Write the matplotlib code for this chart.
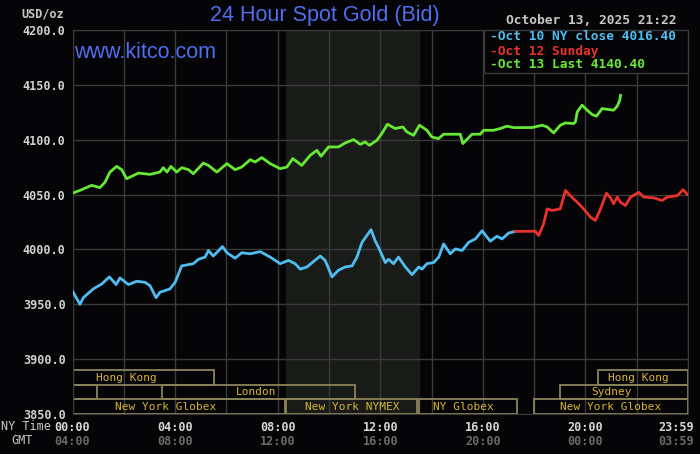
import matplotlib
matplotlib.use("Agg")
import matplotlib.pyplot as plt
from matplotlib.patches import Rectangle

# ---- data (hours NY time, USD/oz) ----
oct10_hours = [0.0, 0.29, 0.42, 0.81, 1.14, 1.44, 1.70, 1.85, 2.18, 2.51, 2.83, 3.02, 3.26, 3.41,
               3.80, 4.00, 4.26, 4.71, 4.91, 5.17, 5.30, 5.49, 5.85, 6.02, 6.34, 6.60, 6.93, 7.32,
               7.71, 8.10, 8.42, 8.68, 8.88, 9.14, 9.66, 9.85, 10.12, 10.37, 10.63, 10.90, 11.09,
               11.29, 11.64, 11.80, 11.93, 12.20, 12.32, 12.52, 12.71, 12.98, 13.24, 13.50, 13.63,
               13.82, 14.08, 14.28, 14.47, 14.73, 14.93, 15.19, 15.45, 15.71, 15.97, 16.29, 16.55,
               16.75, 17.01, 17.27]
oct10_price = [3962, 3950, 3956, 3964, 3968.5, 3975, 3968, 3974, 3968, 3971, 3970, 3967, 3956, 3961,
               3964, 3970, 3985, 3987, 3991, 3993, 3999, 3994, 4002.6, 3997, 3992, 3997, 3996, 3998,
               3993, 3987, 3990, 3987, 3982, 3984, 3994, 3990, 3975, 3981, 3984, 3985, 3993,
               4006.5, 4018, 4008, 4002, 3988, 3991, 3987, 3993, 3984, 3977, 3984, 3982,
               3987, 3988, 3993, 4005, 3996, 4000.5, 3999, 4006.5, 4009.6, 4017, 4007.5, 4012,
               4009.6, 4015, 4016.4]

oct12_hours = [17.27, 18.05, 18.18, 18.37, 18.51, 18.70, 19.02, 19.22, 19.41, 19.68, 19.93, 20.20,
               20.39, 20.59, 20.82, 20.98, 21.10, 21.24, 21.37, 21.56, 21.76, 22.08, 22.28, 22.67,
               22.99, 23.19, 23.58, 23.81, 23.98]
oct12_price = [4016.4, 4016.6, 4012.7, 4023.4, 4037, 4035.5, 4037, 4053.8, 4049, 4043, 4037, 4029.4,
               4026.4, 4037, 4051.3, 4047, 4041.6, 4047.7, 4043, 4040, 4047.7, 4052, 4047.7, 4047,
               4044.6, 4047.7, 4049, 4054.4, 4050]

oct13_hours = [0.0, 0.29, 0.75, 1.07, 1.27, 1.46, 1.72, 1.92, 2.11, 2.31, 2.57, 3.02, 3.41, 3.54,
               3.68, 3.84, 4.06, 4.26, 4.52, 4.71, 5.10, 5.30, 5.63, 6.02, 6.34, 6.60, 6.93, 7.12,
               7.38, 7.71, 8.10, 8.36, 8.59, 8.94, 9.27, 9.53, 9.69, 9.98, 10.37, 10.63, 10.96,
               11.22, 11.41, 11.58, 11.87, 12.06, 12.28, 12.58, 12.88, 13.04, 13.30, 13.53, 13.82,
               14.01, 14.27, 14.47, 15.12, 15.22, 15.58, 15.90, 16.03, 16.42, 16.68, 16.94, 17.22,
               17.93, 18.31, 18.51, 18.76, 19.02, 19.22, 19.54, 19.61, 19.68, 19.87, 20.07, 20.26,
               20.43, 20.65, 20.91, 21.10, 21.24, 21.34, 21.37]
oct13_price = [4051.3, 4053.8, 4058.4, 4056.3, 4061.4, 4070.5, 4075.7, 4072.7, 4064.5, 4066.6, 4069.6,
               4068.4, 4070.5, 4074.5, 4070.5, 4075.7, 4070.5, 4074.5, 4072.7, 4069, 4078.7, 4076.6,
               4070.5, 4078.2, 4072.7, 4075.1, 4081.8, 4079.7, 4083.7, 4078.2, 4073.6, 4075.1,
               4082.8, 4076.6, 4085.8, 4090.3, 4084.9, 4093.4, 4093.4, 4097, 4100.1, 4095.8, 4097.9,
               4094.9, 4099.5, 4105.6, 4114.1, 4110.2, 4111.6, 4107.1, 4104, 4113.2, 4108.6, 4102.5,
               4101, 4105, 4105, 4096.5, 4105, 4105, 4108.6, 4108.6, 4110.2, 4112.3, 4111, 4111.1,
               4113.2, 4111.6, 4106.2, 4113.2, 4115.3, 4114.7, 4116.2, 4125.3, 4131.5, 4126.9, 4123,
               4121.4, 4128.4, 4127.5, 4126.9, 4130.5, 4136, 4140.4]

# market sessions: label, start hour, end hour, row (0 = top)
session_labels = ["Hong Kong", "Hong Kong", "", "London", "Sydney",
                  "New York Globex", "New York NYMEX", "NY Globex", "New York Globex"]
session_start = [0.0, 20.5, 0.0, 3.5, 19.0, 0.0, 8.33, 13.5, 18.0]
session_end = [5.5, 24.0, 0.95, 11.0, 24.0, 8.27, 13.45, 17.35, 24.0]
session_row = [0, 0, 1, 1, 1, 2, 2, 2, 2]
session_text_x = [2.12, 22.07, 0, 7.17, 21.0, 3.64, 10.9, 15.23, 21.0]

nymex_shade = (8.33, 13.5)

x_ticks = [0, 4, 8, 12, 16, 20]
ny_labels = ["00:00", "04:00", "08:00", "12:00", "16:00", "20:00"]
gmt_labels = ["04:00", "08:00", "12:00", "16:00", "20:00", "00:00"]
y_ticks = [3850, 3900, 3950, 4000, 4050, 4100, 4150, 4200]

BG = "#050507"
GRID = "#3a3a3a"
BLUE = "#4fbdf0"
RED = "#e8322a"
GREEN = "#66e835"
SESS_EDGE = "#8a8458"
SESS_TEXT = "#d8b432"
MONO = "DejaVu Sans Mono"

fig = plt.figure(figsize=(7, 4.54), dpi=100, facecolor=BG)
ax = fig.add_axes([72.5 / 700, 40 / 454, 615.5 / 700, 384 / 454])
ax.set_facecolor(BG)
ax.set_xlim(0, 24)
ax.set_ylim(3850, 4200)

ax.axvspan(nymex_shade[0], nymex_shade[1], color="#191b18", zorder=0)

for h in range(0, 25, 2):
    ax.axvline(h, color=GRID, lw=1, zorder=1)
for v in y_ticks:
    ax.axhline(v, color=GRID, lw=1, zorder=1)

# session bars
row_h = 13.3
for lab, s, e, r, tx in zip(session_labels, session_start, session_end, session_row, session_text_x):
    y0 = 3850 + (2 - r) * row_h
    ax.add_patch(Rectangle((s, y0), e - s, row_h, fill=False, edgecolor=SESS_EDGE,
                           lw=1.3, zorder=2))
    if lab:
        ax.text(tx, y0 + row_h / 2, lab, color=SESS_TEXT, fontsize=8, family=MONO,
                ha="center", va="center", zorder=3)

ax.plot(oct10_hours, oct10_price, color=BLUE, lw=2, zorder=4)
ax.plot(oct12_hours, oct12_price, color=RED, lw=2, zorder=4)
ax.plot(oct13_hours, oct13_price, color=GREEN, lw=2, zorder=4)

for sp in ax.spines.values():
    sp.set_color(GRID)
ax.set_xticks([])
ax.set_yticks(y_ticks)
ax.set_yticklabels(["%.1f" % v for v in y_ticks], family=MONO, fontsize=8.5,
                   color="#d0d0d0", fontweight="bold")
ax.tick_params(axis="y", length=0, pad=5)

# x labels (NY / GMT)
for h, ny, gmt in zip(x_ticks, ny_labels, gmt_labels):
    ax.text(h, -0.035, ny, transform=ax.get_xaxis_transform(), ha="center", va="center",
            family=MONO, fontsize=8.5, fontweight="bold", color="#d8d8d8")
    ax.text(h, -0.072, gmt, transform=ax.get_xaxis_transform(), ha="center", va="center",
            family=MONO, fontsize=8.5, fontweight="bold", color="#6a6a6a")
ax.text(23.53, -0.035, "23:59", transform=ax.get_xaxis_transform(), ha="center", va="center",
        family=MONO, fontsize=8.5, fontweight="bold", color="#d8d8d8")
ax.text(23.53, -0.072, "03:59", transform=ax.get_xaxis_transform(), ha="center", va="center",
        family=MONO, fontsize=8.5, fontweight="bold", color="#6a6a6a")
fig.text(1 / 700, 1 - 427 / 454, "NY Time", ha="left", va="center", family=MONO,
         fontsize=8.5, color="#c8c8c8")
fig.text(22 / 700, 1 - 441 / 454, "GMT", ha="center", va="center", family=MONO,
         fontsize=8.5, color="#c8c8c8")

# titles
fig.text(325 / 700, 1 - 16 / 454, "24 Hour Spot Gold (Bid)", ha="center", va="center",
         family="Liberation Sans", fontsize=15.5, color="#4f6ef0")
fig.text(74 / 700, 1 - 53 / 454, "www.kitco.com", ha="left", va="center",
         family="Liberation Sans", fontsize=15.5, color="#4f6ef0")
fig.text(43 / 700, 1 - 14 / 454, "USD/oz", ha="center", va="center", family=MONO,
         fontsize=8.5, fontweight="bold", color="#c8c8c8")
fig.text(591 / 700, 1 - 21 / 454, "October 13, 2025 21:22", ha="center", va="center",
         family=MONO, fontsize=9.3, fontweight="bold", color="#c8c8c8")

# legend box
leg = Rectangle((484 / 700, 1 - 73 / 454), 204 / 700, 43 / 454, transform=fig.transFigure,
                facecolor=BG, edgecolor=GRID, lw=1, zorder=5)
fig.patches.append(leg)
legend_texts = ["-Oct 10 NY close 4016.40", "-Oct 12 Sunday", "-Oct 13 Last 4140.40"]
for i, (t, c) in enumerate(zip(legend_texts, [BLUE, RED, GREEN])):
    fig.text(490 / 700, 1 - (37 + 14 * i) / 454, t, ha="left", va="center", family=MONO,
             fontsize=9.3, fontweight="bold", color=c, zorder=6)

fig.savefig("out.png", dpi=100, facecolor=BG)
